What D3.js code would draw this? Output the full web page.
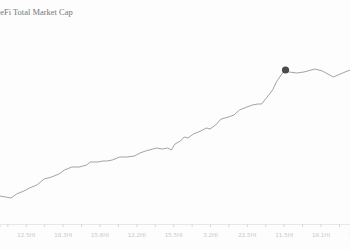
<!DOCTYPE html>
<html>
<head>
<meta charset="utf-8">
<script src="https://cdn.jsdelivr.net/npm/d3@7"></script>
<style>
  html, body { margin: 0; padding: 0; background: #fdfdfd; overflow: hidden; }
  svg { display: block; }
</style>
</head>
<body>
<div id="chart"></div>
<script>
// Week index and total value locked (billions, approx)
const weeks = [0, 1.5, 3, 4.5, 6.5, 8, 10, 12, 14, 16, 17.5, 19.5, 21.5, 23.5, 24.5, 26.5, 28, 29, 30.5,
    32.5, 34.5, 36.5, 38, 39.5, 41.5, 42.5, 44, 45.5, 46.5, 47.5, 49, 50, 51, 52.5, 54.5, 56, 57, 58.5,
    60, 62, 63.5, 65, 67, 68.5, 70, 71, 72.5, 74, 75, 76.5, 77.5, 78.5, 80.5, 82.5, 85.5, 87.5, 90.5, 93, 95];
const values = [14, 13, 12, 16, 19, 22, 25, 31, 33, 36, 40, 43, 43, 45, 48, 48, 49, 49, 50,
    53, 53, 54, 57, 59, 61, 62, 61, 62, 60, 66, 69, 73, 72, 76, 79, 82, 81, 85,
    91, 93, 95, 100, 103, 105, 106, 106, 113, 120, 128, 136, 140, 138, 137, 138, 141, 139, 133, 137, 140];
const highlightWeek = 77.5;

const tickWeeks = [2, 7, 12, 17, 22, 27, 32, 37, 42, 47, 52, 57, 62, 67, 72, 77, 82, 87, 92, 97];
const tickLabels = ['', '12.5HI', '', '18.3HI', '', '15.6HI', '', '12.2HI', '', '15.5HI', '',
    '3.2HI', '', '22.5HI', '', '11.5HI', '', '18.1HI', '', '14.2HI'];

const width = 350, height = 250;

const data = weeks.map((w, i) => ({ week: w, value: values[i] }));

const svg = d3.select('#chart')
    .append('svg')
    .attr('width', width)
    .attr('height', height);

const x = d3.scaleLinear().domain([0, 95]).range([0, width]);
const y = d3.scaleLinear().domain([0, 140]).range([210, 70]);

// Title (runs off the left edge like the original)
svg.append('text')
    .attr('x', -6)
    .attr('y', 15)
    .attr('font-family', 'Liberation Serif, serif')
    .attr('font-size', 8.5)
    .attr('fill', '#777')
    .text('DeFi  Total Market Cap');

// X axis
const xAxis = d3.axisBottom(x)
    .tickValues(tickWeeks)
    .tickSize(3)
    .tickFormat((d, i) => tickLabels[i]);

const axisG = svg.append('g')
    .attr('transform', 'translate(0,224)')
    .call(xAxis);

axisG.select('.domain').attr('stroke', '#e8e8e8');
axisG.selectAll('.tick line').attr('stroke', '#d8d8d8');
axisG.selectAll('.tick text')
    .attr('fill', '#c6c6c6')
    .attr('font-family', 'DejaVu Sans, sans-serif')
    .attr('font-size', 5.5)
    .attr('dy', '1.3em');

// Line
const line = d3.line()
    .x(d => x(d.week))
    .y(d => y(d.value));

svg.append('path')
    .datum(data)
    .attr('fill', 'none')
    .attr('stroke', '#999')
    .attr('stroke-width', 0.9)
    .attr('d', line);

// Highlighted point
const hp = data.find(d => d.week === highlightWeek);
svg.append('circle')
    .attr('cx', x(hp.week))
    .attr('cy', y(hp.value))
    .attr('r', 3.6)
    .attr('fill', '#4a4a4a');
</script>
</body>
</html>
